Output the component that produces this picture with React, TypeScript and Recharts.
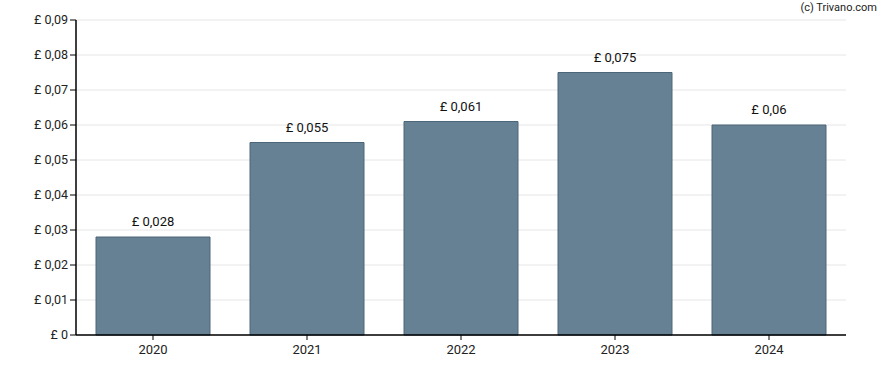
import React from "react";
import { BarChart, Bar, XAxis, YAxis, CartesianGrid, LabelList } from "recharts";

const years = ["2020", "2021", "2022", "2023", "2024"];
const dividends = [0.028, 0.055, 0.061, 0.075, 0.06];
const yTicks = [0, 0.01, 0.02, 0.03, 0.04, 0.05, 0.06, 0.07, 0.08, 0.09];

const data = years.map((y, i) => ({ year: y, value: dividends[i] }));

const fmt = (v: number) => (v === 0 ? "£ 0" : "£ " + String(Number(v.toFixed(3))).replace(".", ","));

export default function App() {
  return (
    <div style={{ position: "absolute", left: 0, top: 0, width: 888, height: 370, background: "#fff", fontFamily: "Roboto, sans-serif" }}>
      <BarChart width={888} height={370} data={data} margin={{ top: 20, right: 42, bottom: 0, left: 0 }}>
        <CartesianGrid vertical={false} stroke="#e6e6e6" />
        <XAxis
          dataKey="year"
          height={35}
          tick={{ fill: "#222", fontSize: 13 }}
          tickLine={{ stroke: "#000" }}
          axisLine={{ stroke: "#000", strokeWidth: 1.5 }}
          tickSize={5}
          tickMargin={5}
        />
        <YAxis
          width={76}
          domain={[0, 0.09]}
          ticks={yTicks}
          tickFormatter={fmt}
          tick={{ fill: "#222", fontSize: 12.5 }}
          tickLine={{ stroke: "#000" }}
          axisLine={{ stroke: "#000", strokeWidth: 1.5 }}
          tickSize={6}
          interval={0}
        />
        <Bar dataKey="value" fill="#668193" stroke="#4c6679" strokeWidth={1} barSize={114} isAnimationActive={false}>
          <LabelList dataKey="value" position="top" offset={11} formatter={(v: any) => fmt(Number(v))} style={{ fill: "#111", fontSize: 13 }} />
        </Bar>
      </BarChart>
      <div style={{ position: "absolute", right: 11, top: 1, fontSize: 11, color: "#222", fontFamily: "Roboto, sans-serif" }}>(c) Trivano.com</div>
    </div>
  );
}
